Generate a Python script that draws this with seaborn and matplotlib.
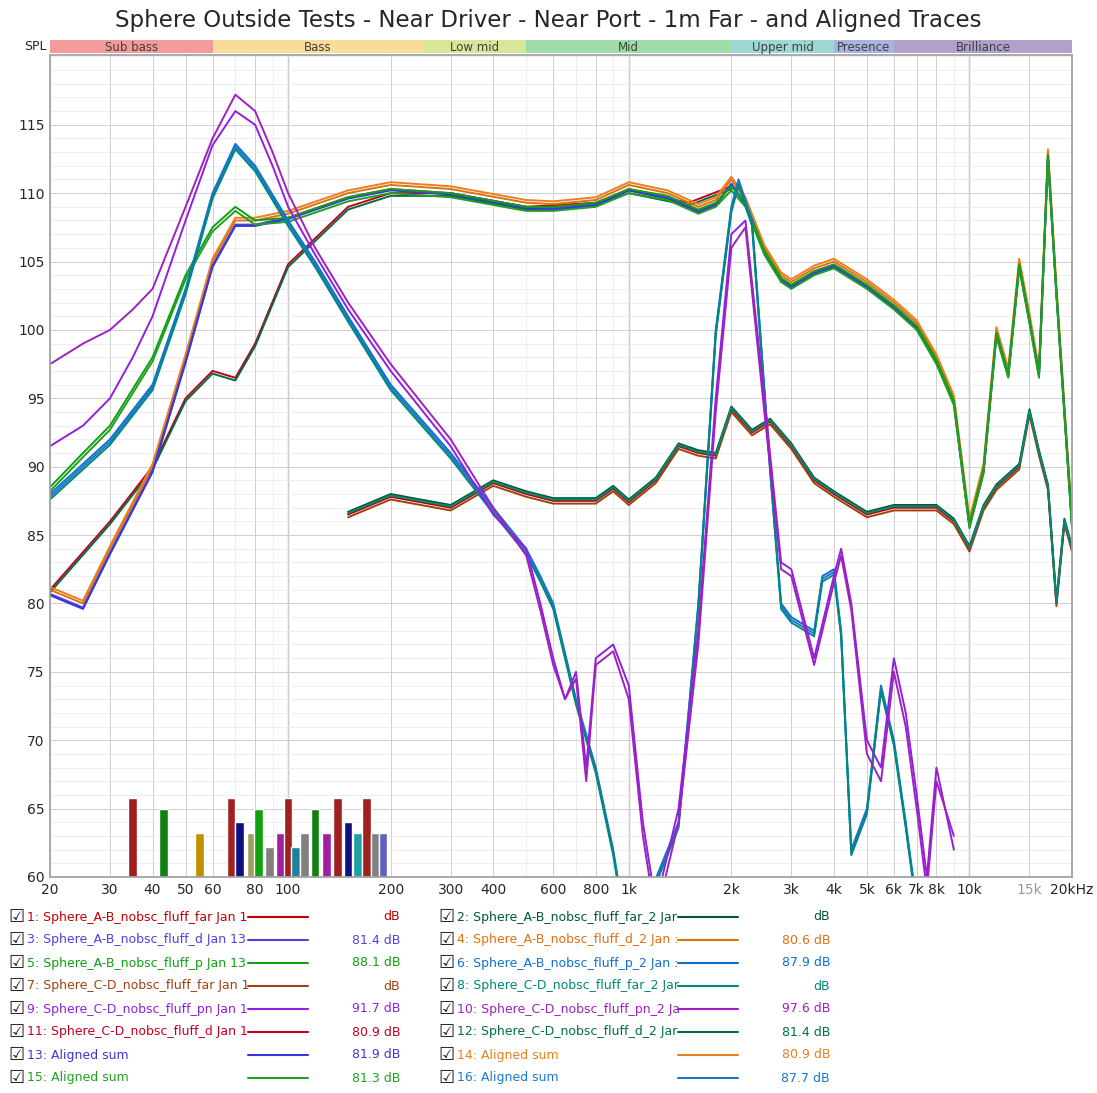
import matplotlib
matplotlib.use("Agg")
import matplotlib.pyplot as plt
import seaborn as sns
import numpy as np
import pandas as pd
from matplotlib.ticker import NullFormatter, FixedLocator

sns.set_theme(style="white")
plt.rcParams['font.family'] = ['DejaVu Sans']

# ---------------- data ----------------
port_a_f = [20,25,30,35,40,50,60,70,80,90,100,120,150,200,300,400,500,550,600,650,700,750,800,900,1000,1100,1200,1400,1600,1800,2000,2200,2500,2800,3000,3500,4000,4200,4500,5000,5500,6000,6500,7000,7500,8000,9000]
port_a_db = [91.5,93,95,98,101,108,113.5,116,115,112,109,105.5,101.5,97,91.5,86.5,84,80,76,73,75,68,76,77,74,64,58,65,78,95,107,108,95,83,82.5,76,82,84,80,70,68,76,72,66,60,68,62]
port_b_db = [97.5,99,100,101.5,103,109,114,117.2,116,113,110,106,102,97.5,92,87,83.5,79.5,75.5,73,74.5,67,75.5,76.5,73,63,57,64,77,94,106,107.5,94,82.5,82,75.5,81.5,83.5,79.5,69,67,75,71,65,59,67,63]
port_c_f = [20,30,40,50,60,70,80,100,120,150,200,300,400,500,550,600,700,800,900,1000,1400,1600,1800,2000,2100,2300,2600,2800,3000,3500,3700,4000,4200,4500,5000,5500,6000,6500,7000]
port_c_db = [88,92,96,103,110,113.6,112,108,105,101,96,91,87,84,82,80,73,68,62,55,64,80,100,109,111,108,90,80,79,78,82,82.5,78,62,65,74,70,64,58]

drv_f = [20,25,30,40,50,60,70,80,100,150,200,300,500,600,800,1000,1300,1600,1800,2000,2200,2500,2800,3000,3500,4000,5000,6000,7000,8000,9000,10000,11000,12000,13000,14000,15000,16000,17000,18000,20000]
drv_db = [81,80,84,90,98,105,108,108,108.5,110,110.6,110.3,109.3,109.2,109.5,110.6,110,109,109.5,111,109.5,106,104,103.5,104.5,105,103.5,102,100.5,98,95,86,90,100,97,105,101,97,113,103,86]
sum_g_db = [88.5,91,93,98,104,107.5,109,108,108.2,109.7,110.3,110,109,109,109.3,110.3,109.8,108.8,109.3,110.5,109.3,105.8,103.8,103.3,104.3,104.8,103.3,101.8,100.3,97.8,94.8,85.8,89.8,99.8,96.8,104.8,100.8,96.8,112.8,102.8,85.8]

far_lo_f = [20,30,40,50,60,70,80,100,150,200,300,500,800,1000,1500,2000]
far_lo_db = [81,86,90,95,97,96.5,99,104.8,109,110,110,109,109.3,110.2,109.3,110.5]
far_hi_f = [150,200,300,400,500,600,800,900,1000,1200,1400,1600,1800,2000,2300,2600,3000,3500,4000,5000,6000,8000,9000,10000,11000,12000,14000,15000,16000,17000,18000,19000,20000]
far_hi_db = [86.5,87.8,87,88.8,88,87.5,87.5,88.4,87.4,89,91.5,91,90.8,94.2,92.5,93.3,91.5,89,88,86.5,87,87,86,84,87,88.5,90,94,91,88.5,80,86,84]

bar_f = [35,43,55,68,72,78,82,88,95,100,105,112,120,130,140,150,160,170,180,190]
bar_db = [65.8,65,63.2,65.8,64,63.2,65,62.2,63.2,65.8,62.2,63.2,65,63.2,65.8,64,63.2,65.8,63.2,63.2]
bar_colors = ["#a02020","#108010","#c09000","#a02020","#101080","#a0a060","#10a010","#808080","#a020a0","#a02020","#2080a0","#808080","#108010","#a020a0","#a02020","#101080","#20a0a0","#a02020","#808080","#6060c0"]

bands = ["Sub bass","Bass","Low mid","Mid","Upper mid","Presence","Brilliance"]
band_edges = [20,60,250,500,2000,4000,6000,20000]
band_colors = ["#f49a9a","#f8dc98","#d6e898","#a0dca8","#9cd8d4","#a8b4e0","#b0a0cc"]

names = ["1: Sphere_A-B_nobsc_fluff_far Jan 1","2: Sphere_A-B_nobsc_fluff_far_2 Jar",
         "3: Sphere_A-B_nobsc_fluff_d Jan 13","4: Sphere_A-B_nobsc_fluff_d_2 Jan :",
         "5: Sphere_A-B_nobsc_fluff_p Jan 13","6: Sphere_A-B_nobsc_fluff_p_2 Jan :",
         "7: Sphere_C-D_nobsc_fluff_far Jan 1","8: Sphere_C-D_nobsc_fluff_far_2 Jar",
         "9: Sphere_C-D_nobsc_fluff_pn Jan 1","10: Sphere_C-D_nobsc_fluff_pn_2 Ja",
         "11: Sphere_C-D_nobsc_fluff_d Jan 1","12: Sphere_C-D_nobsc_fluff_d_2 Jar",
         "13: Aligned sum","14: Aligned sum","15: Aligned sum","16: Aligned sum"]
levels = ["dB","dB","81.4 dB","80.6 dB","88.1 dB","87.9 dB","dB","dB","91.7 dB","97.6 dB","80.9 dB","81.4 dB","81.9 dB","80.9 dB","81.3 dB","87.7 dB"]
colors = ["#c00000","#005a30","#5040e0","#e07010","#10a010","#1070d0","#a04010","#008878",
          "#9020e0","#a020c0","#c00020","#007040","#3838d8","#e88020","#20a020","#1878d0"]

# ---------------- figure ----------------
fig = plt.figure(figsize=(10.97, 10.93), dpi=100)
ax = fig.add_axes([50/1097, 1-877/1093, 1022/1097, 822/1093])
ax.set_xscale("log")
ax.set_xlim(20, 20000)
ax.set_ylim(60, 120.1)

def line(f, d, c, lw=1.4, off=0.0):
    df = pd.DataFrame({"f": f, "db": np.array(d) + off})
    sns.lineplot(data=df, x="f", y="db", color=c, lw=lw, ax=ax, sort=False, legend=False)

for f, d, c in zip(bar_f, bar_db, bar_colors):
    ax.bar(f, d - 60, bottom=60, width=f * 0.06, color=c, zorder=1)

line(far_hi_f, far_hi_db, colors[0]); line(far_hi_f, far_hi_db, colors[6], off=-0.2)
line(far_hi_f, far_hi_db, colors[1], off=0.2); line(far_hi_f, far_hi_db, colors[7], off=0.1)
line(far_lo_f, far_lo_db, colors[10]); line(far_lo_f, far_lo_db, colors[11], off=-0.2)
line(drv_f, drv_db, colors[3]); line(drv_f, drv_db, colors[13], off=0.2)
line(drv_f, drv_db, colors[2], off=-0.3); line(drv_f, drv_db, colors[12], off=-0.4)
line(drv_f, sum_g_db, colors[4]); line(drv_f, sum_g_db, colors[14], off=-0.3)
line(port_c_f, port_c_db, colors[5]); line(port_c_f, port_c_db, colors[15], off=-0.2)
line(port_c_f, port_c_db, colors[7], off=-0.4)
line(port_a_f, port_a_db, colors[8]); line(port_a_f, port_b_db, colors[9])

ax.set_facecolor("white")
ax.set_xlabel(""); ax.set_ylabel("")
ax.set_yticks(range(60, 120, 5))
ax.yaxis.set_minor_locator(FixedLocator(np.arange(60, 120.1, 1)))
maj = [20,30,40,50,60,80,100,200,300,400,600,800,1000,2000,3000,4000,5000,6000,7000,8000,10000,15000,20000]
lab = ["20","30","40","50","60","80","100","200","300","400","600","800","1k","2k","3k","4k","5k","6k","7k","8k","10k","15k","20kHz"]
ax.set_xticks(maj); ax.set_xticklabels(lab)
ax.get_xticklabels()[-2].set_color("#999999")
minor = [f * m for f in [10,100,1000,10000] for m in range(1,10) if 20 <= f*m <= 20000]
ax.xaxis.set_minor_locator(FixedLocator(minor))
ax.xaxis.set_minor_formatter(NullFormatter())
ax.grid(True, which="major", color="#d0d0d0", lw=0.7)
ax.grid(True, which="minor", color="#e8e8e8", lw=0.5)
for v in [100, 1000, 10000]:
    ax.axvline(v, color="#808080", lw=0.9, zorder=0.5)
ax.tick_params(labelsize=10, length=0, pad=4)
for s in ax.spines.values():
    s.set_color("#a0a0a0")

bax = fig.add_axes([50/1097, 1-53/1093, 1022/1097, 13/1093])
bax.set_xscale("log"); bax.set_xlim(20, 20000); bax.set_ylim(0, 1)
for i, b in enumerate(bands):
    l, r = band_edges[i], band_edges[i+1]
    bax.axvspan(l, r, color=band_colors[i], lw=0)
    bax.text(np.sqrt(l*r), 0.45, b, ha="center", va="center", fontsize=8.5, color="#404040")
bax.set_xticks([]); bax.set_yticks([])
bax.xaxis.set_minor_locator(FixedLocator([]))
for s in bax.spines.values():
    s.set_visible(False)

fig.text(35/1097, 1-46/1093, "SPL", ha="center", va="center", fontsize=9)
fig.suptitle("Sphere Outside Tests - Near Driver - Near Port - 1m Far - and Aligned Traces",
             y=1-20/1093, fontsize=16.5, va="center")

for i in range(16):
    col = i % 2; row = i // 2
    y = 1 - (917 + row * 23) / 1093
    x0 = 8 / 1097 if col == 0 else 438 / 1097
    fig.text(x0, y, "\u2611", fontsize=13, va="center", ha="left", color="#202020")
    fig.text(x0 + 19/1097, y, names[i], fontsize=9, va="center", ha="left", color=colors[i])
    fig.add_artist(plt.Line2D([x0 + 240/1097, x0 + 300/1097], [y, y], color=colors[i], lw=1.5,
                              transform=fig.transFigure))
    fig.text(x0 + 392/1097, y, levels[i], fontsize=9, va="center", ha="right", color=colors[i])

fig.savefig("out.png", dpi=100, facecolor="white")
